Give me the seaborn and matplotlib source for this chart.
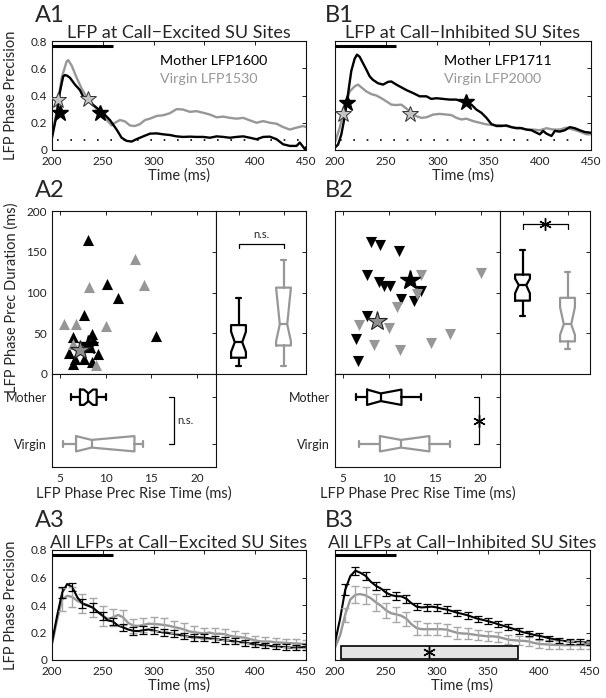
import numpy as np
import pandas as pd
import matplotlib
matplotlib.use("Agg")
import matplotlib.pyplot as plt
from matplotlib.patches import Rectangle
import seaborn as sns

# ------------------------------------------------------------------ data
# A1 example LFPs (call-excited sites)
a1_t_mother = [200, 204.6, 207.9, 211, 212.8, 215, 217.7, 222.6, 227.5, 230.8, 235.7, 240.6, 245.6,
               250.5, 257, 263.6, 268.5, 273.4, 278.4, 283, 289.8, 296.4, 303, 309.5, 316, 322.6,
               329, 335.7, 342.3, 348.9, 355.4, 362, 368.5, 375, 381.6, 388.2, 394.8, 401.3, 407.9,
               414.4, 421, 427.5, 434, 440.7, 443.9, 448.9, 450]
a1_y_mother = [0.09, 0.26, 0.43, 0.54, 0.55, 0.545, 0.53, 0.48, 0.44, 0.39, 0.36, 0.33, 0.30,
               0.27, 0.22, 0.15, 0.09, 0.067, 0.062, 0.079, 0.10, 0.12, 0.122, 0.115, 0.11, 0.10,
               0.096, 0.098, 0.096, 0.096, 0.09, 0.10, 0.096, 0.09, 0.096, 0.10, 0.09, 0.079, 0.096,
               0.098, 0.079, 0.042, 0.03, 0.03, 0.055, 0.006, 0.02]
a1_t_virgin = [200, 204.6, 209.5, 214.4, 216, 219.3, 224.3, 229.2, 234, 239, 244, 248.9, 254,
               258.7, 262, 266.9, 271.8, 276.7, 281.6, 286.6, 291.5, 296.4, 303, 309.5, 316, 322.6,
               329, 335.7, 342.3, 348.9, 355.4, 362, 368.5, 375, 381.6, 388.2, 394.8, 401.3, 407.9,
               414.4, 421, 427.5, 434, 440.7, 447.2, 450]
a1_y_virgin = [0.1, 0.285, 0.53, 0.65, 0.66, 0.62, 0.53, 0.45, 0.39, 0.345, 0.30, 0.27, 0.22,
               0.18, 0.20, 0.22, 0.21, 0.18, 0.176, 0.19, 0.22, 0.23, 0.25, 0.255, 0.27, 0.30,
               0.297, 0.28, 0.285, 0.273, 0.26, 0.24, 0.245, 0.236, 0.23, 0.236, 0.217, 0.2, 0.212,
               0.2, 0.193, 0.168, 0.15, 0.164, 0.176, 0.168]
a1_star_mother_t = [207.9, 247.2]
a1_star_mother_y = [0.27, 0.27]
a1_star_virgin_t = [206.2, 235]
a1_star_virgin_y = [0.37, 0.375]

# B1 example LFPs (call-inhibited sites)
b1_t_mother = [200, 203, 206.2, 209.4, 212.7, 215.9, 219.2, 221.5, 224, 227.4, 230.6, 233.9, 237,
               242, 246.9, 251.8, 255, 259.9, 264.8, 269.7, 276.2, 282.7, 289.3, 294, 299, 305.5,
               312, 318.6, 323.5, 328.3, 333.2, 338, 343, 347.9, 352.8, 357.7, 362.5, 367.4, 372.3,
               377.2, 382, 387, 391.9, 396.7, 400, 403.3, 406.5, 411.4, 414.7, 419.5, 424.4, 429.3,
               434.2, 439, 444, 449.5]
b1_y_mother = [0.018, 0.04, 0.115, 0.24, 0.41, 0.58, 0.67, 0.70, 0.685, 0.636, 0.59, 0.54, 0.515,
               0.49, 0.48, 0.50, 0.503, 0.48, 0.46, 0.44, 0.418, 0.394, 0.394, 0.375, 0.38, 0.375,
               0.37, 0.37, 0.357, 0.35, 0.333, 0.297, 0.273, 0.236, 0.19, 0.176, 0.176, 0.18, 0.168,
               0.16, 0.16, 0.15, 0.145, 0.127, 0.115, 0.14, 0.12, 0.103, 0.14, 0.135, 0.145, 0.168,
               0.16, 0.145, 0.132, 0.127]
b1_t_virgin = [200, 204.6, 209.4, 214.3, 219.2, 222.5, 225.7, 230.6, 235.5, 240.4, 245.3, 250.2,
               255, 259.9, 264.8, 269.7, 274.6, 279.5, 284.4, 289.3, 295.8, 302.3, 308.8, 313.7,
               318.6, 323.5, 328.3, 334.9, 341.4, 347.9, 354.4, 361, 367.4, 374, 380.5, 387, 393.5,
               400, 406.5, 413, 419.5, 426, 432.6, 439, 445.6, 449.5]
b1_y_virgin = [0.055, 0.164, 0.31, 0.43, 0.467, 0.48, 0.46, 0.43, 0.41, 0.40, 0.38, 0.357,
               0.333, 0.33, 0.333, 0.304, 0.273, 0.248, 0.236, 0.24, 0.26, 0.265, 0.26, 0.256,
               0.236, 0.224, 0.23, 0.212, 0.2, 0.188, 0.183, 0.183, 0.176, 0.164, 0.164, 0.15, 0.15,
               0.145, 0.16, 0.15, 0.15, 0.164, 0.15, 0.135, 0.115, 0.115]
b1_star_mother_t = [211.7, 327.7]
b1_star_mother_y = [0.345, 0.35]
b1_star_virgin_t = [207.8, 273.6]
b1_star_virgin_y = [0.265, 0.265]

sig_level = 0.074          # dotted significance line
call_bar = [200, 260]      # call duration bar
call_bar_y = 0.765

# A2 scatter (rise time ms, duration ms)
a2_mother_rise = [8.0, 10.1, 11.3, 7.65, 15.5, 6.4, 8.45, 8.6, 8.1, 6.0, 6.6, 6.45, 7.6, 9.1, 8.5, 7.8, 8.3]
a2_mother_dur = [165, 110, 93, 73, 47, 45, 49, 42, 37, 26, 19, 12, 19, 24, 15, 33, 33]
a2_virgin_rise = [13.2, 14.2, 8.2, 10.0, 5.45, 6.75, 6.4, 8.9]
a2_virgin_dur = [141, 109, 107, 59, 61, 61, 37, 11]
a2_star_mother = (8.1, 35)
a2_star_virgin = (7.2, 29)

# B2 scatter
b2_mother_rise = [8.08, 9.0, 11.1, 7.56, 8.9, 9.4, 10.1, 13.5, 11.3, 12.7, 7.6, 6.36, 6.6]
b2_mother_dur = [162, 158, 151, 121, 113, 108, 108, 102, 92, 89, 71, 43, 16]
b2_virgin_rise = [13.5, 20.0, 13.0, 10.9, 6.7, 9.95, 8.3, 11.2, 14.6, 16.6]
b2_virgin_dur = [121, 124, 98, 82, 60, 57, 36, 30, 38, 49]
b2_star_mother = (12.3, 115)
b2_star_virgin = (8.66, 65)

# box-plot summaries: (whislo, q1, cilo, med, cihi, q3, whishi)
a2_dur_mother = (10, 20, 27, 39, 52, 60, 93)
a2_dur_virgin = (10, 35, 40, 61, 106, 106, 140)
b2_dur_mother = (71, 90, 99, 109, 117, 122, 152)
b2_dur_virgin = (31, 40, 48, 61, 82, 93.5, 125)
a2_rise_mother = (6.2, 7.17, 7.6, 8.1, 8.6, 9.0, 10.07)
a2_rise_virgin = (5.36, 6.74, 6.74, 8.44, 13.15, 13.15, 14.06)
b2_rise_mother = (6.35, 7.6, 7.6, 9.1, 11.35, 11.35, 13.5)
b2_rise_virgin = (6.7, 9.0, 9.0, 11.3, 14.4, 14.4, 16.6)
groups = ["Mother", "Virgin"]

# A3 / B3 population means (5 ms grid)
pop_t = list(range(200, 451, 5))
a3_mother = [0.127, 0.32, 0.49, 0.553, 0.53, 0.455, 0.41, 0.396, 0.382, 0.35, 0.322, 0.288, 0.28,
             0.25, 0.237, 0.222, 0.212, 0.21, 0.217, 0.222, 0.215, 0.205, 0.2, 0.195, 0.19, 0.183,
             0.175, 0.169, 0.166, 0.164, 0.162, 0.157, 0.153, 0.148, 0.143, 0.14, 0.135, 0.13,
             0.125, 0.12, 0.113, 0.109, 0.106, 0.102, 0.097, 0.096, 0.093, 0.09, 0.09, 0.092, 0.096]
a3_virgin = [0.115, 0.29, 0.44, 0.467, 0.458, 0.43, 0.412, 0.4, 0.38, 0.35, 0.32, 0.3, 0.31,
             0.328, 0.31, 0.27, 0.25, 0.248, 0.255, 0.264, 0.262, 0.259, 0.255, 0.249, 0.24,
             0.232, 0.222, 0.208, 0.202, 0.197, 0.193, 0.2, 0.19, 0.191, 0.188, 0.176, 0.17,
             0.166, 0.162, 0.152, 0.143, 0.136, 0.134, 0.134, 0.128, 0.127, 0.124, 0.122, 0.12,
             0.118, 0.115]
b3_mother = [0.127, 0.3, 0.51, 0.61, 0.65, 0.634, 0.612, 0.57, 0.54, 0.52, 0.49, 0.472, 0.464,
             0.463, 0.445, 0.413, 0.388, 0.382, 0.385, 0.388, 0.382, 0.373, 0.366, 0.355, 0.343,
             0.335, 0.325, 0.312, 0.3, 0.292, 0.282, 0.272, 0.26, 0.249, 0.238, 0.226, 0.213,
             0.201, 0.193, 0.183, 0.176, 0.168, 0.158, 0.151, 0.143, 0.138, 0.134, 0.132, 0.132,
             0.128, 0.127]
b3_virgin = [0.09, 0.18, 0.33, 0.44, 0.475, 0.479, 0.47, 0.45, 0.42, 0.395, 0.362, 0.34, 0.332,
             0.322, 0.3, 0.26, 0.232, 0.224, 0.224, 0.224, 0.224, 0.224, 0.22, 0.208, 0.197, 0.193,
             0.191, 0.186, 0.18, 0.176, 0.172, 0.172, 0.168, 0.158, 0.148, 0.144, 0.141, 0.139,
             0.135, 0.124, 0.117, 0.115, 0.112, 0.11, 0.11, 0.108, 0.108, 0.108, 0.108, 0.108, 0.108]
# SEM at 210, 220, ..., 450 ms
a3_mother_err = [0.04, 0.03, 0.035, 0.03, 0.03, 0.028, 0.028, 0.027, 0.027, 0.026, 0.026, 0.025,
                 0.025, 0.025, 0.024, 0.024, 0.023, 0.022, 0.022, 0.021, 0.02, 0.02, 0.02, 0.02, 0.02]
a3_virgin_err = [0.085, 0.075, 0.07, 0.07, 0.07, 0.06, 0.055, 0.05, 0.05, 0.048, 0.047, 0.045,
                 0.044, 0.043, 0.042, 0.04, 0.04, 0.038, 0.037, 0.035, 0.034, 0.033, 0.032, 0.031, 0.03]
b3_mother_err = [0.04, 0.03, 0.03, 0.03, 0.028, 0.028, 0.027, 0.026, 0.025, 0.025, 0.025, 0.024,
                 0.024, 0.023, 0.023, 0.022, 0.022, 0.021, 0.021, 0.02, 0.02, 0.02, 0.019, 0.018, 0.018]
b3_virgin_err = [0.05, 0.06, 0.06, 0.06, 0.055, 0.055, 0.05, 0.05, 0.045, 0.045, 0.043, 0.042,
                 0.04, 0.038, 0.036, 0.035, 0.034, 0.033, 0.032, 0.03, 0.03, 0.028, 0.027, 0.026, 0.025]
b3_sig_window = [206, 379]
b3_sig_star = (292.5, 0.055)

# ------------------------------------------------------------------ style
BLACK = "#000000"
GRAY = "#979797"
sns.set_style("white")
plt.rcParams.update({
    "font.family": ["Lato", "DejaVu Sans"],
    "xtick.direction": "in", "ytick.direction": "in",
    "xtick.top": True, "ytick.right": True,
    "xtick.major.size": 3, "ytick.major.size": 3,
    "xtick.major.width": 0.7, "ytick.major.width": 0.7,
    "xtick.color": "#222222", "ytick.color": "#222222",
    "xtick.labelsize": 8.5, "ytick.labelsize": 8.5,
    "axes.linewidth": 0.8, "axes.edgecolor": "#111111",
    "xtick.major.pad": 4, "ytick.major.pad": 3.5,
})

W, H = 606, 698
fig = plt.figure(figsize=(W / 100, H / 100), dpi=100)


def add_ax(l, r, t, b):
    return fig.add_axes([l / W, 1 - b / H, (r - l) / W, (b - t) / H])


LBL = 10.5
TITLE = 13


def trace_axes(ax, show_ylab):
    ax.set_xlim(200, 450)
    ax.set_ylim(0, 0.8)
    ax.set_xticks([200, 250, 300, 350, 400, 450])
    ax.set_yticks([0, 0.2, 0.4, 0.6, 0.8])
    if show_ylab:
        ax.set_yticklabels(["0", "0.2", "0.4", "0.6", "0.8"])
        ax.set_ylabel("LFP Phase Precision", fontsize=LBL)
        ax.yaxis.set_label_coords(-0.135, 0.5)
    else:
        ax.set_yticklabels([])
        ax.set_ylabel("")
    ax.set_xlabel("Time (ms)", fontsize=LBL, labelpad=1)
    ax.plot(call_bar, [call_bar_y, call_bar_y], color=BLACK, lw=2.2, solid_capstyle="butt", zorder=5)


def example_panel(ax, tm, ym, tv, yv, sm, sv, labels, title, show_ylab):
    sns.lineplot(x=tv, y=yv, ax=ax, color=GRAY, lw=1.7, estimator=None, sort=False)
    sns.lineplot(x=tm, y=ym, ax=ax, color=BLACK, lw=1.7, estimator=None, sort=False)
    ax.plot([205, 450], [sig_level, sig_level], color=BLACK, lw=1.2, ls=(0, (1, 7)))
    ax.plot(sm[0], sm[1], ls="none", marker="*", ms=12, mfc=BLACK, mec=BLACK, zorder=6)
    ax.plot(sv[0], sv[1], ls="none", marker="*", ms=12, mfc="#c4c4c4", mec="#333333", mew=0.7, zorder=6)
    ax.text(0.425, 0.815, labels[0], transform=ax.transAxes, color=BLACK, fontsize=10.3, va="center")
    ax.text(0.425, 0.655, labels[1], transform=ax.transAxes, color=GRAY, fontsize=10.3, va="center")
    ax.set_title(title, fontsize=TITLE, pad=2)
    trace_axes(ax, show_ylab)


def pop_panel(ax, ym, yv, em, ev, title, show_ylab):
    sns.lineplot(x=pop_t, y=yv, ax=ax, color=GRAY, lw=1.7, estimator=None, sort=False)
    sns.lineplot(x=pop_t, y=ym, ax=ax, color=BLACK, lw=1.5, estimator=None, sort=False)
    et = pop_t[2::2]
    ax.errorbar(et, yv[2::2], yerr=ev, fmt="none", ecolor="#a8a8a8", elinewidth=1.0, capsize=3, capthick=1.0)
    ax.errorbar(et, ym[2::2], yerr=em, fmt="none", ecolor=BLACK, elinewidth=0.9, capsize=3, capthick=0.9)
    ax.set_title(title, fontsize=TITLE, pad=1.5)
    trace_axes(ax, show_ylab)


def stats(v, label):
    return dict(whislo=v[0], q1=v[1], cilo=v[2], med=v[3], cihi=v[4], q3=v[5], whishi=v[6],
                label=label, fliers=[])


def draw_boxes(ax, mother, virgin, orientation):
    for i, (vals, col) in enumerate([(mother, BLACK), (virgin, GRAY)]):
        pr = dict(color=col, lw=1.6)
        ax.bxp([stats(vals, groups[i])], positions=[i + 1], widths=0.33, capwidths=0.13,
               shownotches=True, showfliers=False, orientation=orientation, patch_artist=False,
               boxprops=pr, whiskerprops=pr, capprops=pr, medianprops=pr, manage_ticks=False)


def scatter_panel(axs, axd, axr, mr, md, vr, vd, smo, svi, marker, dur_m, dur_v, rise_m, rise_v,
                  show_ylab, sig):
    dfm = pd.DataFrame({"rise": mr, "dur": md})
    dfv = pd.DataFrame({"rise": vr, "dur": vd})
    sns.scatterplot(data=dfm, x="rise", y="dur", ax=axs, marker=marker, s=64, color=BLACK, linewidth=0)
    sns.scatterplot(data=dfv, x="rise", y="dur", ax=axs, marker=marker, s=64, color=GRAY, linewidth=0)
    axs.plot(*smo, ls="none", marker="*", ms=15, mfc=BLACK, mec=BLACK, zorder=6)
    axs.plot(*svi, ls="none", marker="*", ms=15, mfc="#8f8f8f", mec="#222222", mew=0.8, zorder=6)
    for a in (axs, axr):
        a.set_xlim(4.1, 22.1)
        a.set_xticks([5, 10, 15, 20])
    axs.set_xticklabels([])
    axs.set_xlabel("")
    axs.set_ylim(0, 200)
    axs.set_yticks([0, 50, 100, 150, 200])
    if show_ylab:
        axs.set_ylabel("LFP Phase Prec Duration (ms)", fontsize=LBL)
        axs.yaxis.set_label_coords(-0.205, 0.47)
    else:
        axs.set_yticklabels([])
        axs.set_ylabel("")

    # duration boxes
    draw_boxes(axd, dur_m, dur_v, "vertical")
    axd.set_xlim(0.5, 2.5)
    axd.set_ylim(0, 200)
    axd.set_xticks([1, 2])
    axd.set_yticks([0, 50, 100, 150, 200])
    axd.set_xticklabels([])
    axd.set_yticklabels([])

    # rise boxes
    draw_boxes(axr, rise_m, rise_v, "horizontal")
    axr.set_ylim(2.5, 0.5)
    axr.set_yticks([1, 2])
    axr.set_yticklabels(groups, fontsize=9)
    axr.set_xlabel("LFP Phase Prec Rise Time (ms)", fontsize=LBL, labelpad=2)

    # significance marks
    if sig:
        yb, yt = 178, 184.5
        axd.plot([1, 1, 2, 2], [yb, yt, yt, yb], color=BLACK, lw=0.9)
        axd.plot([1.5], [yt], ls="none", marker=(6, 2, 0), ms=9, mew=1.0, color=BLACK)
        xv = 19.85
        axr.plot([xv - 0.55, xv, xv, xv - 0.55], [1, 1, 2, 2], color=BLACK, lw=0.9)
        axr.plot([xv], [1.5], ls="none", marker=(6, 2, 0), ms=9, mew=1.0, color=BLACK)
    else:
        yb, yt = 154, 160
        axd.plot([1, 1, 2, 2], [yb, yt, yt, yb], color=BLACK, lw=0.9)
        axd.text(1.5, 164, "n.s.", ha="center", va="bottom", fontsize=8)
        xv = 17.5
        axr.plot([xv - 0.55, xv, xv, xv - 0.55], [1, 1, 2, 2], color=BLACK, lw=0.9)
        axr.text(xv + 0.3, 1.5, "n.s.", ha="left", va="center", fontsize=8)


# ------------------------------------------------------------------ layout
axA1 = add_ax(52, 306, 41, 150)
axB1 = add_ax(335, 591, 41, 150)
axA2s = add_ax(52, 216, 211, 374)
axA2d = add_ax(216, 306, 211, 374)
axA2r = add_ax(52, 216, 374, 467)
axB2s = add_ax(335, 500, 211, 374)
axB2d = add_ax(500, 590, 211, 374)
axB2r = add_ax(335, 500, 374, 467)
axA3 = add_ax(52, 306, 550, 660)
axB3 = add_ax(335, 590, 550, 660)

example_panel(axA1, a1_t_mother, a1_y_mother, a1_t_virgin, a1_y_virgin,
              (a1_star_mother_t, a1_star_mother_y), (a1_star_virgin_t, a1_star_virgin_y),
              ("Mother LFP1600", "Virgin LFP1530"), "LFP at Call\u2212Excited SU Sites", True)
example_panel(axB1, b1_t_mother, b1_y_mother, b1_t_virgin, b1_y_virgin,
              (b1_star_mother_t, b1_star_mother_y), (b1_star_virgin_t, b1_star_virgin_y),
              ("Mother LFP1711", "Virgin LFP2000"), "LFP at Call\u2212Inhibited SU Sites", False)

scatter_panel(axA2s, axA2d, axA2r, a2_mother_rise, a2_mother_dur, a2_virgin_rise, a2_virgin_dur,
              a2_star_mother, a2_star_virgin, "^", a2_dur_mother, a2_dur_virgin,
              a2_rise_mother, a2_rise_virgin, True, False)
scatter_panel(axB2s, axB2d, axB2r, b2_mother_rise, b2_mother_dur, b2_virgin_rise, b2_virgin_dur,
              b2_star_mother, b2_star_virgin, "v", b2_dur_mother, b2_dur_virgin,
              b2_rise_mother, b2_rise_virgin, False, True)

pop_panel(axA3, a3_mother, a3_virgin, a3_mother_err, a3_virgin_err,
          "All LFPs at Call\u2212Excited SU Sites", True)
pop_panel(axB3, b3_mother, b3_virgin, b3_mother_err, b3_virgin_err,
          "All LFPs at Call\u2212Inhibited SU Sites", False)
axB3.add_patch(Rectangle((b3_sig_window[0], 0.008), b3_sig_window[1] - b3_sig_window[0], 0.095,
                         facecolor="#e4e4e4", edgecolor=BLACK, lw=1.2, zorder=4))
axB3.plot([b3_sig_star[0]], [b3_sig_star[1]], ls="none", marker=(6, 2, 0),
          ms=9, mew=1.0, color=BLACK, zorder=6)

# panel letters
for txt, x, y in [("A1", 35, 22), ("B1", 325, 22), ("A2", 35, 197), ("B2", 325, 197),
                  ("A3", 35, 527), ("B3", 325, 527)]:
    fig.text(x / W, 1 - y / H, txt, fontsize=17, va="baseline", ha="left")

fig.savefig("out.png", dpi=100)
